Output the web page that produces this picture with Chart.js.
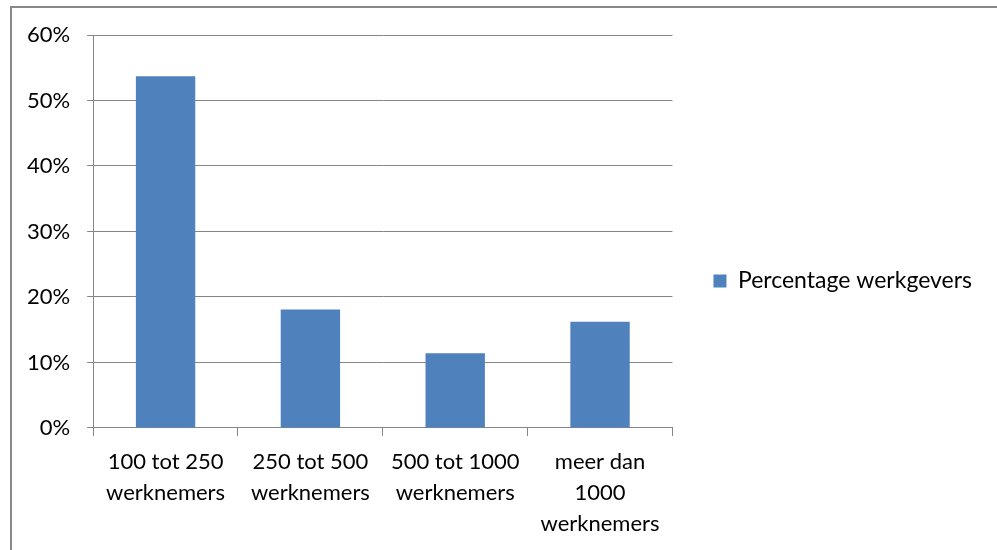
<!DOCTYPE html>
<html>
<head>
<meta charset="utf-8">
<script src="https://cdn.jsdelivr.net/npm/chart.js@4"></script>
<style>
    html, body { margin: 0; padding: 0; background: #fff; }
    #frame {
        position: absolute; left: 10px; top: 6px; width: 987px; height: 544px;
        border-left: 2px solid #888; border-top: 2px solid #888;
    }
    #wrap { position: absolute; left: 0; top: 0; width: 997px; height: 550px; }
</style>
</head>
<body>
<div id="frame"></div>
<div id="wrap"><canvas id="dataChart"></canvas></div>
<script>
const categories = [
    ['100 tot 250', 'werknemers'],
    ['250 tot 500', 'werknemers'],
    ['500 tot 1000', 'werknemers'],
    ['meer dan', '1000', 'werknemers']
];
const seriesName = 'Percentage werkgevers';
const percentages = [53.7, 18.1, 11.4, 16.2];
const yTicks = [0, 10, 20, 30, 40, 50, 60];

const ctx = document.getElementById('dataChart').getContext('2d');
const font = { family: 'Lato', size: 22 };

let chart = new Chart(ctx, {
    type: 'bar',
    data: {
        labels: categories,
        datasets: [{
            label: seriesName,
            data: percentages,
            backgroundColor: '#4F81BD',
            categoryPercentage: 0.41,
            barPercentage: 1
        }]
    },
    options: {
        responsive: true,
        maintainAspectRatio: false,
        animation: false,
        layout: {
            padding: { left: 10, top: 35, right: 15, bottom: 1 }
        },
        plugins: {
            legend: {
                position: 'right',
                maxWidth: 340, // otherwise the label gets clipped
                labels: {
                    color: '#000',
                    font: { family: 'Lato', size: 23 },
                    boxWidth: 13,
                    boxHeight: 13,
                    padding: 41
                }
            },
            tooltip: { enabled: false }
        },
        scales: {
            x: {
                ticks: {
                    color: '#000',
                    font: { family: 'Lato', size: 22, lineHeight: 1.41 },
                    padding: 10,
                    maxRotation: 0,
                    autoSkip: false
                },
                grid: {
                    offset: true,
                    drawOnChartArea: false,
                    tickLength: 8,
                    color: '#868686'
                },
                border: { color: '#868686' }
            },
            y: {
                min: 0,
                max: 60,
                afterBuildTicks: axis => {
                    axis.ticks = yTicks.map(v => ({ value: v }));
                },
                ticks: {
                    color: '#000',
                    font: font,
                    padding: 17,
                    callback: v => v + '%'
                },
                grid: {
                    color: '#868686',
                    tickLength: 6
                },
                border: { color: '#868686' }
            }
        }
    },
    plugins: [{
        // nudge the legend up a little, like the original
        id: 'legendNudge',
        afterLayout: c => {
            c.legend.top -= 11;
            c.legend.bottom -= 11;
        }
    }]
});
</script>
</body>
</html>
